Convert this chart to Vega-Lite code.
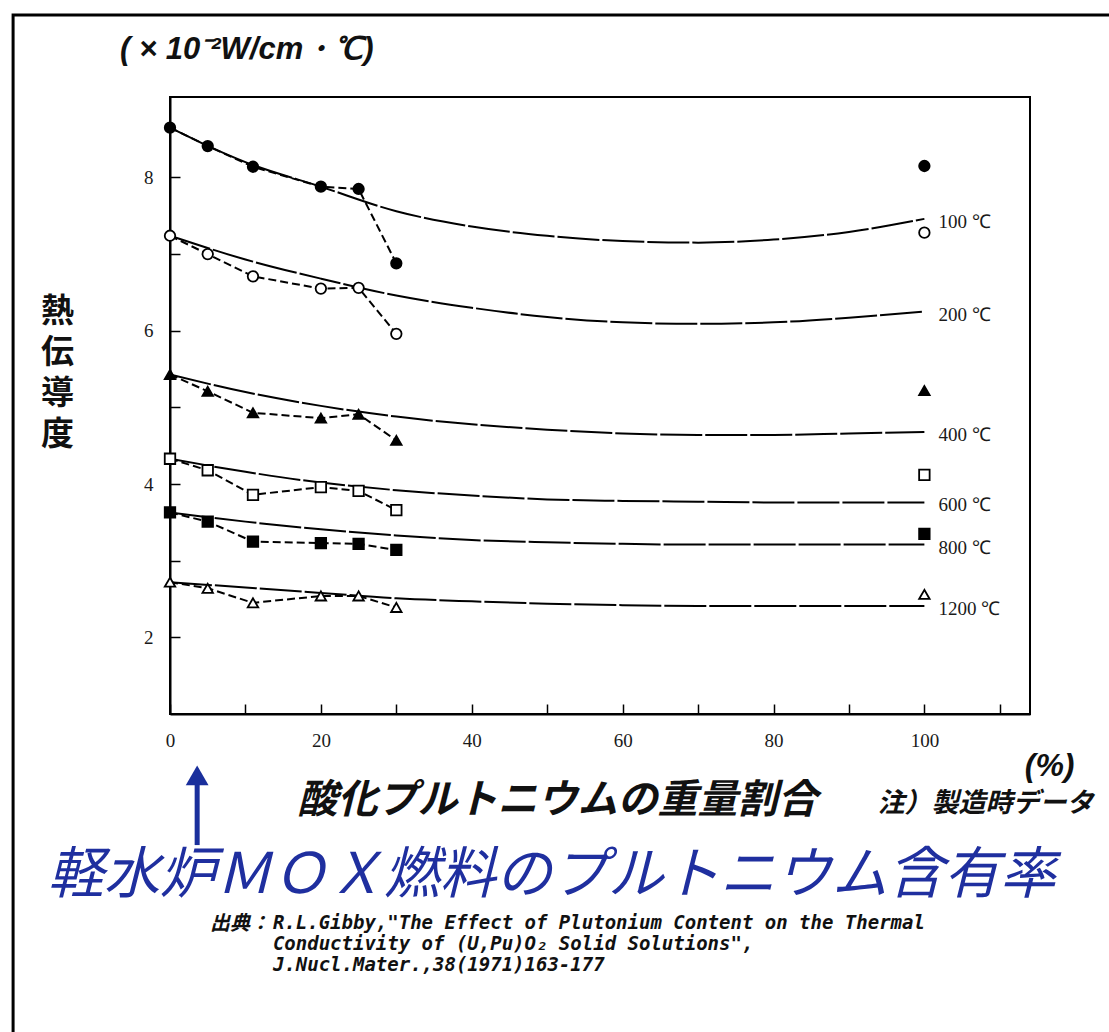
{
  "$schema": "https://vega.github.io/schema/vega-lite/v6.json",
  "width": 860,
  "height": 617,
  "autosize": {"type": "none"},
  "padding": {"left": 170, "top": 97, "right": 79, "bottom": 318},
  "background": "white",
  "config": {
    "view": {"stroke": "black", "strokeWidth": 2},
    "axis": {
      "domainColor": "black", "domainWidth": 2,
      "tickColor": "black", "tickWidth": 1.5, "tickSize": -10,
      "labelFont": "Liberation Serif", "labelFontSize": 19, "labelColor": "#1a1a1a",
      "labelPadding": 27, "grid": false, "labelFlush": false, "labelOverlap": false
    }
  },
  "datasets": {
    "fit": [
      {"T": "100 ℃", "x": 0, "y": 8.65}, {"T": "100 ℃", "x": 10, "y": 8.2}, {"T": "100 ℃", "x": 20, "y": 7.88}, {"T": "100 ℃", "x": 30, "y": 7.56}, {"T": "100 ℃", "x": 40, "y": 7.36}, {"T": "100 ℃", "x": 50, "y": 7.24}, {"T": "100 ℃", "x": 60, "y": 7.17}, {"T": "100 ℃", "x": 70, "y": 7.15}, {"T": "100 ℃", "x": 80, "y": 7.19}, {"T": "100 ℃", "x": 90, "y": 7.29}, {"T": "100 ℃", "x": 100, "y": 7.46},
      {"T": "200 ℃", "x": 0, "y": 7.24}, {"T": "200 ℃", "x": 10, "y": 6.93}, {"T": "200 ℃", "x": 20, "y": 6.68}, {"T": "200 ℃", "x": 30, "y": 6.46}, {"T": "200 ℃", "x": 40, "y": 6.3}, {"T": "200 ℃", "x": 50, "y": 6.18}, {"T": "200 ℃", "x": 60, "y": 6.11}, {"T": "200 ℃", "x": 70, "y": 6.09}, {"T": "200 ℃", "x": 80, "y": 6.11}, {"T": "200 ℃", "x": 90, "y": 6.17}, {"T": "200 ℃", "x": 100, "y": 6.25},
      {"T": "400 ℃", "x": 0, "y": 5.43}, {"T": "400 ℃", "x": 10, "y": 5.2}, {"T": "400 ℃", "x": 20, "y": 5.02}, {"T": "400 ℃", "x": 30, "y": 4.88}, {"T": "400 ℃", "x": 40, "y": 4.78}, {"T": "400 ℃", "x": 50, "y": 4.71}, {"T": "400 ℃", "x": 60, "y": 4.66}, {"T": "400 ℃", "x": 70, "y": 4.64}, {"T": "400 ℃", "x": 80, "y": 4.64}, {"T": "400 ℃", "x": 90, "y": 4.66}, {"T": "400 ℃", "x": 100, "y": 4.68},
      {"T": "600 ℃", "x": 0, "y": 4.33}, {"T": "600 ℃", "x": 10, "y": 4.16}, {"T": "600 ℃", "x": 20, "y": 4.02}, {"T": "600 ℃", "x": 30, "y": 3.92}, {"T": "600 ℃", "x": 40, "y": 3.85}, {"T": "600 ℃", "x": 50, "y": 3.8}, {"T": "600 ℃", "x": 60, "y": 3.78}, {"T": "600 ℃", "x": 70, "y": 3.77}, {"T": "600 ℃", "x": 80, "y": 3.76}, {"T": "600 ℃", "x": 90, "y": 3.76}, {"T": "600 ℃", "x": 100, "y": 3.76},
      {"T": "800 ℃", "x": 0, "y": 3.63}, {"T": "800 ℃", "x": 10, "y": 3.51}, {"T": "800 ℃", "x": 20, "y": 3.41}, {"T": "800 ℃", "x": 30, "y": 3.33}, {"T": "800 ℃", "x": 40, "y": 3.27}, {"T": "800 ℃", "x": 50, "y": 3.24}, {"T": "800 ℃", "x": 60, "y": 3.22}, {"T": "800 ℃", "x": 70, "y": 3.21}, {"T": "800 ℃", "x": 80, "y": 3.21}, {"T": "800 ℃", "x": 90, "y": 3.21}, {"T": "800 ℃", "x": 100, "y": 3.21},
      {"T": "1200 ℃", "x": 0, "y": 2.72}, {"T": "1200 ℃", "x": 10, "y": 2.65}, {"T": "1200 ℃", "x": 20, "y": 2.58}, {"T": "1200 ℃", "x": 30, "y": 2.51}, {"T": "1200 ℃", "x": 40, "y": 2.47}, {"T": "1200 ℃", "x": 50, "y": 2.44}, {"T": "1200 ℃", "x": 60, "y": 2.42}, {"T": "1200 ℃", "x": 70, "y": 2.41}, {"T": "1200 ℃", "x": 80, "y": 2.41}, {"T": "1200 ℃", "x": 90, "y": 2.41}, {"T": "1200 ℃", "x": 100, "y": 2.41}
    ],
    "measured": [
      {"T": "100 ℃", "x": 0, "y": 8.65}, {"T": "100 ℃", "x": 5, "y": 8.41}, {"T": "100 ℃", "x": 11, "y": 8.14}, {"T": "100 ℃", "x": 20, "y": 7.88}, {"T": "100 ℃", "x": 25, "y": 7.85}, {"T": "100 ℃", "x": 30, "y": 6.88}, {"T": "100 ℃", "x": 100, "y": 8.15},
      {"T": "200 ℃", "x": 0, "y": 7.24}, {"T": "200 ℃", "x": 5, "y": 7.0}, {"T": "200 ℃", "x": 11, "y": 6.71}, {"T": "200 ℃", "x": 20, "y": 6.55}, {"T": "200 ℃", "x": 25, "y": 6.56}, {"T": "200 ℃", "x": 30, "y": 5.96}, {"T": "200 ℃", "x": 100, "y": 7.28},
      {"T": "400 ℃", "x": 0, "y": 5.43}, {"T": "400 ℃", "x": 5, "y": 5.21}, {"T": "400 ℃", "x": 11, "y": 4.93}, {"T": "400 ℃", "x": 20, "y": 4.86}, {"T": "400 ℃", "x": 25, "y": 4.91}, {"T": "400 ℃", "x": 30, "y": 4.57}, {"T": "400 ℃", "x": 100, "y": 5.22},
      {"T": "600 ℃", "x": 0, "y": 4.33}, {"T": "600 ℃", "x": 5, "y": 4.18}, {"T": "600 ℃", "x": 11, "y": 3.86}, {"T": "600 ℃", "x": 20, "y": 3.96}, {"T": "600 ℃", "x": 25, "y": 3.91}, {"T": "600 ℃", "x": 30, "y": 3.66}, {"T": "600 ℃", "x": 100, "y": 4.12},
      {"T": "800 ℃", "x": 0, "y": 3.63}, {"T": "800 ℃", "x": 5, "y": 3.51}, {"T": "800 ℃", "x": 11, "y": 3.25}, {"T": "800 ℃", "x": 20, "y": 3.23}, {"T": "800 ℃", "x": 25, "y": 3.22}, {"T": "800 ℃", "x": 30, "y": 3.14}, {"T": "800 ℃", "x": 100, "y": 3.35},
      {"T": "1200 ℃", "x": 0, "y": 2.72}, {"T": "1200 ℃", "x": 5, "y": 2.64}, {"T": "1200 ℃", "x": 11, "y": 2.45}, {"T": "1200 ℃", "x": 20, "y": 2.54}, {"T": "1200 ℃", "x": 25, "y": 2.54}, {"T": "1200 ℃", "x": 30, "y": 2.39}, {"T": "1200 ℃", "x": 100, "y": 2.56}
    ],
    "one": [{}]
  },
  "layer": [
    {
      "data": {"name": "fit"},
      "mark": {"type": "line", "color": "black", "strokeWidth": 2, "interpolate": "monotone", "strokeDash": [42, 3]},
      "encoding": {
        "x": {
          "field": "x", "type": "quantitative",
          "scale": {"domain": [0, 114], "nice": false, "zero": false},
          "axis": {
            "title": "酸化プルトニウムの重量割合",
            "values": [0, 10, 20, 30, 40, 50, 60, 70, 80, 90, 100, 110],
            "format": "d",
            "labelExpr": "datum.value % 20 === 0 && datum.value <= 100 ? datum.label : ''",
            "titleFont": "Noto Sans CJK JP", "titleFontSize": 40, "titleFontWeight": "bold", "titleFontStyle": "italic",
            "titleColor": "#111", "titleX": 387, "titleY": 86, "titleAlign": "center", "titleBaseline": "middle"
          }
        },
        "y": {
          "field": "y", "type": "quantitative",
          "scale": {"domain": [1, 9.05], "nice": false, "zero": false},
          "axis": {
            "title": ["熱", "伝", "導", "度"],
            "values": [2, 3, 4, 5, 6, 7, 8],
            "format": "d",
            "labelExpr": "datum.value % 2 === 0 ? datum.label : ''",
            "titleAngle": 0, "titleX": -113, "titleY": 214, "titleAlign": "center", "titleBaseline": "middle",
            "titleLineHeight": 41, "titleFont": "Noto Sans CJK JP", "titleFontSize": 33, "titleFontWeight": "bold", "titleColor": "#111"
          }
        },
        "detail": {"field": "T", "type": "nominal"}
      }
    },
    {
      "data": {"name": "measured"},
      "transform": [{"filter": "datum.x <= 30"}],
      "mark": {"type": "line", "color": "black", "strokeWidth": 2, "strokeDash": [8, 4]},
      "encoding": {
        "x": {"field": "x", "type": "quantitative"},
        "y": {"field": "y", "type": "quantitative"},
        "detail": {"field": "T", "type": "nominal"}
      }
    },
    {
      "data": {"name": "measured"},
      "mark": {"type": "point", "filled": true, "stroke": "black", "strokeWidth": 1.8, "size": 110, "opacity": 1},
      "encoding": {
        "x": {"field": "x", "type": "quantitative"},
        "y": {"field": "y", "type": "quantitative"},
        "shape": {"field": "T", "type": "nominal", "legend": null,
          "scale": {"domain": ["100 ℃", "200 ℃", "400 ℃", "600 ℃", "800 ℃", "1200 ℃"], "range": ["circle", "circle", "triangle-up", "square", "square", "triangle-up"]}},
        "fill": {"field": "T", "type": "nominal", "legend": null,
          "scale": {"domain": ["100 ℃", "200 ℃", "400 ℃", "600 ℃", "800 ℃", "1200 ℃"], "range": ["black", "white", "black", "white", "black", "white"]}}
      }
    },
    {
      "data": {"name": "fit"},
      "transform": [{"filter": "datum.x === 100"}],
      "mark": {"type": "text", "align": "left", "baseline": "middle", "dx": 14, "dy": 3, "font": "Liberation Serif", "fontSize": 19, "color": "#1a1a1a"},
      "encoding": {
        "x": {"field": "x", "type": "quantitative"},
        "y": {"field": "y", "type": "quantitative"},
        "text": {"field": "T", "type": "nominal"}
      }
    },
    {
      "data": {"name": "one"},
      "mark": {"type": "rect", "filled": false, "stroke": "black", "strokeWidth": 3},
      "encoding": {
        "x": {"datum": -20.8, "type": "quantitative"},
        "x2": {"datum": 140},
        "y": {"datum": 10.12, "type": "quantitative"},
        "y2": {"datum": -12}
      }
    },
    {
      "data": {"name": "one"},
      "mark": {"type": "text", "text": "( × 10⁻²W/cm・℃)", "font": "Liberation Sans", "fontSize": 31, "fontWeight": "bold", "fontStyle": "italic", "align": "left", "baseline": "middle", "color": "#111"},
      "encoding": {"x": {"datum": -6.62, "type": "quantitative"}, "y": {"datum": 9.66, "type": "quantitative"}}
    },
    {
      "data": {"name": "one"},
      "mark": {"type": "text", "text": "(%)", "font": "Liberation Sans", "fontSize": 32, "fontWeight": "bold", "fontStyle": "italic", "align": "center", "baseline": "middle", "color": "#111"},
      "encoding": {"x": {"datum": 116.6, "type": "quantitative"}, "y": {"datum": 0.32, "type": "quantitative"}}
    },
    {
      "data": {"name": "one"},
      "mark": {"type": "text", "text": "注）製造時データ", "font": "Noto Sans CJK JP", "fontSize": 27, "fontWeight": "bold", "fontStyle": "italic", "align": "left", "baseline": "middle", "color": "#111"},
      "encoding": {"x": {"datum": 93.8, "type": "quantitative"}, "y": {"datum": -0.17, "type": "quantitative"}}
    },
    {
      "data": {"name": "one"},
      "mark": {"type": "rule", "color": "#1a2f9c", "strokeWidth": 5},
      "encoding": {"x": {"datum": 3.6, "type": "quantitative"}, "y": {"datum": 0.1, "type": "quantitative"}, "y2": {"datum": -0.71}}
    },
    {
      "data": {"name": "one"},
      "mark": {"type": "point", "shape": "triangle-up", "filled": true, "color": "#1a2f9c", "size": 520, "opacity": 1},
      "encoding": {"x": {"datum": 3.6, "type": "quantitative"}, "y": {"datum": 0.2, "type": "quantitative"}}
    },
    {
      "data": {"name": "one"},
      "mark": {"type": "text", "text": "軽水炉ＭＯＸ燃料のプルトニウム含有率", "font": "Noto Sans CJK JP", "fontSize": 56, "fontStyle": "italic", "align": "center", "baseline": "middle", "color": "#1f2f9f"},
      "encoding": {"x": {"datum": 50.6, "type": "quantitative"}, "y": {"datum": -1.11, "type": "quantitative"}}
    },
    {
      "data": {"name": "one"},
      "mark": {"type": "text", "text": "出典：", "font": "Noto Sans CJK JP", "fontSize": 20, "fontWeight": "bold", "fontStyle": "italic", "align": "right", "baseline": "middle", "color": "#111"},
      "encoding": {"x": {"datum": 13.25, "type": "quantitative"}, "y": {"datum": -1.74, "type": "quantitative"}}
    },
    {
      "data": {"name": "one"},
      "mark": {"type": "text", "text": "R.L.Gibby,\"The Effect of Plutonium Content on the Thermal\nConductivity of (U,Pu)O₂ Solid Solutions\",\nJ.Nucl.Mater.,38(1971)163-177", "lineBreak": "\n", "lineHeight": 21, "font": "DejaVu Sans Mono", "fontSize": 19, "fontWeight": "bold", "fontStyle": "italic", "align": "left", "baseline": "top", "color": "#111"},
      "encoding": {"x": {"datum": 13.64, "type": "quantitative"}, "y": {"datum": -1.61, "type": "quantitative"}}
    }
  ]
}
